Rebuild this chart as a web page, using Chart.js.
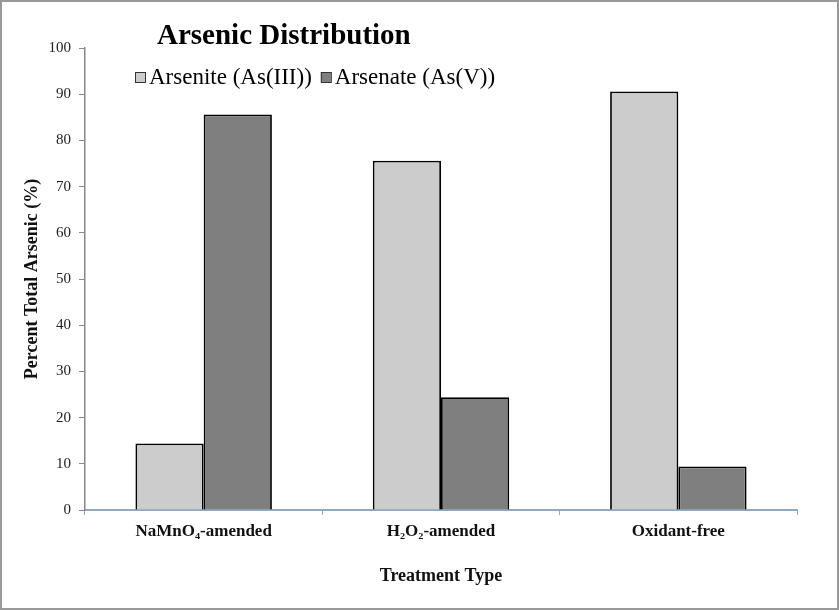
<!DOCTYPE html>
<html>
<head>
<meta charset="utf-8">
<script src="https://cdn.jsdelivr.net/npm/chart.js@4.4.0/dist/chart.umd.min.js"></script>
<style>
  html, body { margin: 0; padding: 0; background: #fff; }
  #wrap { width: 839px; height: 610px; }
</style>
</head>
<body>
<div id="wrap"><canvas id="arsenicChart" width="839" height="610"></canvas></div>
<script>
// chart values
const treatments = ['NaMnO₄-amended', 'H₂O₂-amended', 'Oxidant-free'];
const arsenite = [14.4, 75.6, 90.6];
const arsenate = [85.6, 24.4, 9.4];
const seriesNames = ['Arsenite (As(III))', 'Arsenate (As(V))'];
const seriesColors = ['#cccccc', '#7f7f7f'];
const chartTitle = 'Arsenic Distribution';

const serif = '"Liberation Serif", "Times New Roman", serif';

// title, legend and the outer frame
const decorations = {
  id: 'decorations',
  afterDraw(chart) {
    const ctx = chart.ctx;
    ctx.save();
    ctx.strokeStyle = '#999';
    ctx.lineWidth = 2;
    ctx.strokeRect(1, 1, chart.width - 2, chart.height - 2);

    ctx.fillStyle = '#000';
    ctx.textBaseline = 'middle';
    ctx.textAlign = 'left';
    ctx.font = 'bold 29px ' + serif;
    ctx.fillText(chartTitle, 157, 37);

    ctx.font = '23px ' + serif;
    let x = 135;
    chart.data.datasets.forEach((ds) => {
      ctx.fillStyle = ds.backgroundColor;
      ctx.fillRect(x, 72, 10, 10);
      ctx.strokeStyle = '#333';
      ctx.lineWidth = 1;
      ctx.strokeRect(x + 0.5, 72.5, 10, 10);
      ctx.fillStyle = '#000';
      ctx.fillText(ds.label, x + 14, 78);
      x += 14 + ctx.measureText(ds.label).width + 9;
    });
    ctx.restore();
  }
};

const ctx = document.getElementById('arsenicChart').getContext('2d');
new Chart(ctx, {
  type: 'bar',
  data: {
    labels: treatments,
    datasets: [{
      label: seriesNames[0],
      data: arsenite,
      backgroundColor: seriesColors[0],
      borderColor: '#000',
      borderWidth: 1.8,
      borderSkipped: 'bottom',
    }, {
      label: seriesNames[1],
      data: arsenate,
      backgroundColor: seriesColors[1],
      borderColor: '#000',
      borderWidth: 1.8,
      borderSkipped: 'bottom',
    }]
  },
  options: {
    responsive: false,
    animation: false,
    layout: { padding: { top: 48, right: 42, left: 0, bottom: 0 } },
    datasets: {
      bar: { barPercentage: 1.0, categoryPercentage: 0.575 }
    },
    plugins: {
      legend: { display: false },
      title: { display: false },
      tooltip: { enabled: false },
    },
    scales: {
      x: {
        afterFit: (scale) => { scale.height = 100; },
        border: { color: '#8faabf', width: 2 },
        grid: { drawOnChartArea: false, offset: true, tickLength: 5, color: '#8faabf' },
        ticks: {
          color: '#111',
          padding: 6,
          font: { family: serif, size: 17, weight: 'bold' },
        },
        title: {
          display: true,
          text: 'Treatment Type',
          color: '#111',
          font: { family: serif, size: 18, weight: 'bold' },
          padding: { top: 0, bottom: 23 },
        },
      },
      y: {
        min: 0,
        max: 100,
        afterFit: (scale) => { scale.width = 85; },
        border: { color: '#888', width: 1.5 },
        grid: { drawOnChartArea: false, tickLength: 6, color: '#888' },
        ticks: {
          stepSize: 10,
          color: '#222',
          padding: 8,
          font: { family: serif, size: 15 },
        },
        title: {
          display: true,
          text: 'Percent Total Arsenic (%)',
          color: '#111',
          font: { family: serif, size: 18, weight: 'bold' },
          padding: { top: 22, bottom: 0 },
        },
      },
    },
  },
  plugins: [decorations],
});
</script>
</body>
</html>
